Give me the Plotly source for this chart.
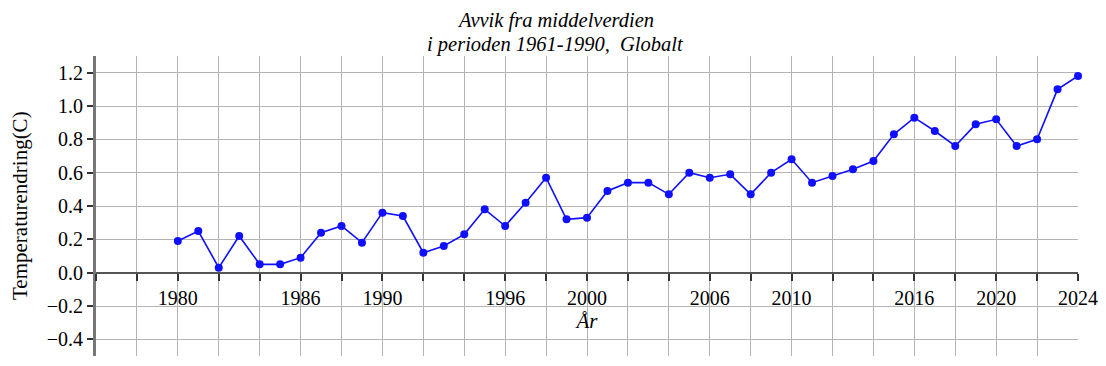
import plotly.graph_objects as go

years = list(range(1980, 2025))
anomaly = [0.19, 0.25, 0.03, 0.22, 0.05, 0.05, 0.09, 0.24, 0.28, 0.18,
           0.36, 0.34, 0.12, 0.16, 0.23, 0.38, 0.28, 0.42, 0.57, 0.32,
           0.33, 0.49, 0.54, 0.54, 0.47, 0.60, 0.57, 0.59, 0.47, 0.60,
           0.68, 0.54, 0.58, 0.62, 0.67, 0.83, 0.93, 0.85, 0.76, 0.89,
           0.92, 0.76, 0.80, 1.10, 1.18]

x_tickvals = list(range(1976, 2025, 2))
x_labelled = [1980, 1986, 1990, 1996, 2000, 2006, 2010, 2016, 2020, 2024]
x_ticktext = [str(v) if v in x_labelled else "" for v in x_tickvals]
y_tickvals = [-0.4, -0.2, 0.0, 0.2, 0.4, 0.6, 0.8, 1.0, 1.2]

title_lines = ["Avvik fra middelverdien", "i perioden 1961-1990,\u00a0\u00a0Globalt"]
x_title = "År"
y_title = "Temperaturendring(C)"

FONT = "Liberation Serif, Times New Roman, serif"
x_range = [1976, 2024]
y_range = [-0.5, 1.3]

# the page body adds an 8px margin, so the figure is 8px smaller each way
fig = go.Figure()
fig.add_trace(go.Scatter(
    x=years, y=anomaly, mode="lines+markers",
    line=dict(color="#1010ff", width=1.6),
    marker=dict(color="#1010ff", size=8),
    cliponaxis=False, showlegend=False,
))

fig.update_layout(
    width=1098, height=358,
    margin=dict(l=88, r=28, t=48, b=10),
    paper_bgcolor="white", plot_bgcolor="white",
    font=dict(family=FONT, size=20, color="black"),
    xaxis=dict(
        range=x_range, tickmode="array", tickvals=x_tickvals, ticktext=x_ticktext,
        showgrid=True, gridcolor="#b4b4b4", gridwidth=1,
        zeroline=False, showline=True, linecolor="#555555", linewidth=2,
        anchor="free", position=(0 - y_range[0]) / (y_range[1] - y_range[0]),
        ticks="outside", ticklen=7, tickwidth=1.5, tickcolor="#333333",
        tickfont=dict(family=FONT, size=20),
        title=dict(text=x_title, standoff=4,
                   font=dict(family=FONT, size=21, style="italic")),
        automargin=False,
    ),
    yaxis=dict(
        range=y_range, tickmode="array", tickvals=y_tickvals,
        tickformat=".1f",
        showgrid=True, gridcolor="#b4b4b4", gridwidth=1,
        zeroline=False, showline=True, linecolor="#777777", linewidth=3,
        ticks="outside", ticklen=6, tickwidth=1.5, tickcolor="#333333",
        tickfont=dict(family=FONT, size=20),
        automargin=False,
    ),
)

for i, line in enumerate(title_lines):
    fig.add_annotation(
        text=line, xref="paper", yref="paper", x=0.468, y=1,
        xanchor="center", yanchor="middle", yshift=[36, 12][i],
        showarrow=False,
        font=dict(family=FONT, size=20.5, style="italic", color="black"),
    )

fig.add_annotation(
    text=y_title, textangle=-90, xref="paper", yref="paper",
    x=0, y=0.5, xanchor="center", yanchor="middle", xshift=-76,
    showarrow=False, font=dict(family=FONT, size=21, color="black"),
)

fig.write_html("out.html")
